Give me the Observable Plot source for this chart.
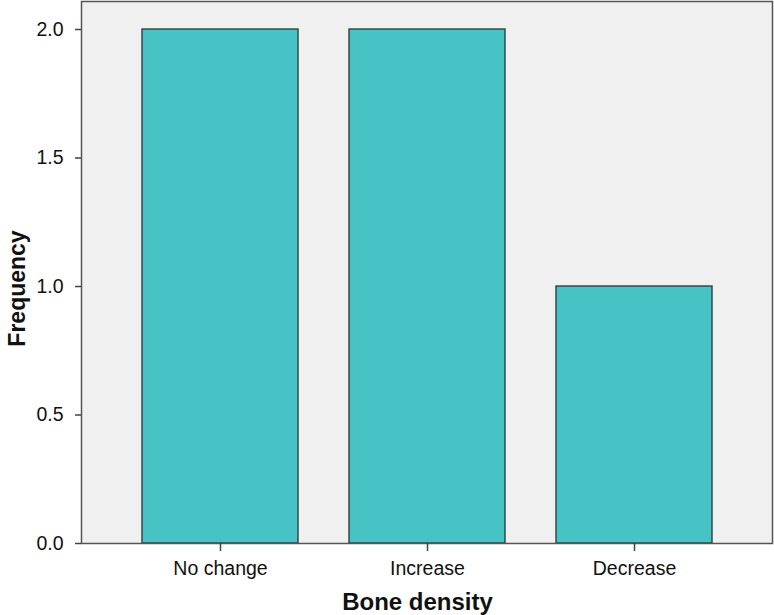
<!DOCTYPE html>
<html>
<head>
<meta charset="utf-8">
<script src="https://cdn.jsdelivr.net/npm/d3@7"></script>
<script src="https://cdn.jsdelivr.net/npm/@observablehq/plot@0.6"></script>
<style>
  html, body { margin: 0; padding: 0; background: #fff; }
</style>
</head>
<body>
<div id="chart"></div>
<script>
const categories = ["No change", "Increase", "Decrease"];
const frequencies = [2, 2, 1];
const yTicks = [0, 0.5, 1, 1.5, 2];
const xTitle = "Bone density";
const yTitle = "Frequency";

const data = categories.map((c, i) => ({category: c, frequency: frequencies[i]}));

const chart = Plot.plot({
  width: 774,
  height: 615,
  marginLeft: 81,
  marginRight: 2,
  marginTop: 1,
  marginBottom: 72,
  style: {fontFamily: "'Liberation Sans', Arial, sans-serif", fontSize: "19.5px", background: "#fff", color: "#111"},
  x: {domain: categories, paddingInner: 0.248, paddingOuter: 0.289},
  y: {domain: [0, 2.109]},
  marks: [
    Plot.frame({fill: "#f0f0f0", stroke: "none"}),
    Plot.barY(data, {x: "category", y: "frequency", fill: "#48c3c5", stroke: "#2a4040", strokeWidth: 1.4}),
    Plot.frame({stroke: "#555", strokeWidth: 1.5}),
    Plot.axisY({ticks: yTicks, tickFormat: d3.format(".1f"), tickSize: 6, tickPadding: 12, label: null, stroke: "#444", strokeWidth: 1.5}),
    Plot.axisX({tickSize: 8, tickPadding: 10, label: null, stroke: "#444", strokeWidth: 1.5}),
    Plot.text([xTitle], {frameAnchor: "bottom", textAnchor: "middle", dx: -9.5, dy: 59, lineAnchor: "middle", fontSize: 24, fontWeight: "bold", fill: "#111"}),
    Plot.text([yTitle], {frameAnchor: "left", textAnchor: "middle", dx: -63.4, dy: 16, rotate: -90, lineAnchor: "middle", fontSize: 23, fontWeight: "bold", fill: "#111"})
  ]
});
document.getElementById("chart").appendChild(chart);
</script>
</body>
</html>
